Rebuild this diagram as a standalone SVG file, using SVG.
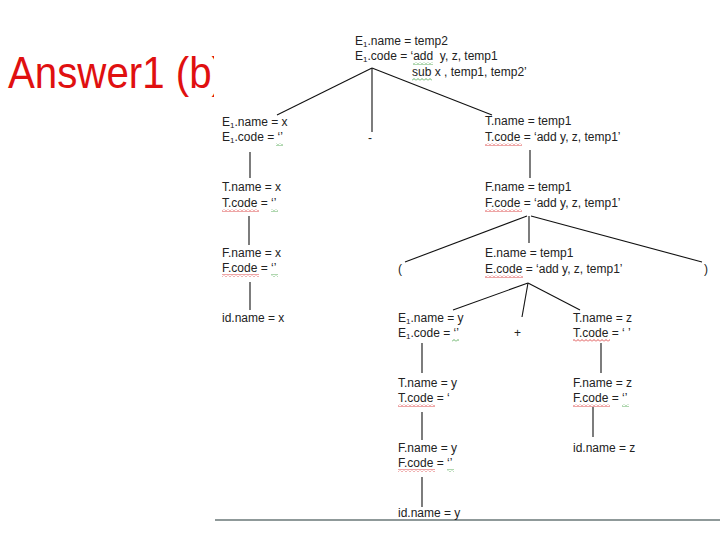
<svg xmlns="http://www.w3.org/2000/svg" width="720" height="540" viewBox="0 0 720 540">
<style>
text{font-family:"Liberation Sans",Arial,sans-serif;font-size:12px;fill:#222}
.pre{white-space:pre}
.sub{font-size:8px}
.title{font-size:45px;fill:#e01010}
.edge{stroke:#111;stroke-width:1.1;fill:none}
</style>
<defs>
<pattern id="wr" width="4" height="3" patternUnits="userSpaceOnUse"><path d="M0,2.5 L2,0.5 L4,2.5" stroke="#d42020" stroke-width="0.8" fill="none"/></pattern>
<pattern id="wg" width="4" height="3" patternUnits="userSpaceOnUse"><path d="M0,2.5 L2,0.5 L4,2.5" stroke="#3a9a3a" stroke-width="0.8" fill="none"/></pattern>
<clipPath id="tc"><rect x="0" y="0" width="214" height="540"/></clipPath>
</defs>
<rect width="720" height="540" fill="#fff"/>
<g id="title" clip-path="url(#tc)"><text class="title" x="8" y="88" textLength="217" lengthAdjust="spacingAndGlyphs">Answer1 (b)</text></g>
<line x1="215" y1="520" x2="720" y2="520" stroke="#6a7777" stroke-width="1.5"/>
<g id="connectors">
<line class="edge" x1="372" y1="68" x2="277" y2="115"/>
<line class="edge" x1="372" y1="68" x2="372" y2="132"/>
<line class="edge" x1="372" y1="68" x2="492" y2="115"/>
<line class="edge" x1="250" y1="152" x2="250" y2="178"/>
<line class="edge" x1="249" y1="216" x2="249" y2="245"/>
<line class="edge" x1="250" y1="282" x2="250" y2="310"/>
<line class="edge" x1="530" y1="150" x2="530" y2="178"/>
<line class="edge" x1="527" y1="216" x2="405" y2="262"/>
<line class="edge" x1="529" y1="216" x2="529" y2="243"/>
<line class="edge" x1="531" y1="216" x2="702" y2="262"/>
<line class="edge" x1="528" y1="283" x2="453" y2="310"/>
<line class="edge" x1="528" y1="283" x2="522" y2="317"/>
<line class="edge" x1="528" y1="283" x2="580" y2="310"/>
<line class="edge" x1="422" y1="343" x2="422" y2="373"/>
<line class="edge" x1="422" y1="412" x2="422" y2="440"/>
<line class="edge" x1="422" y1="477" x2="422" y2="507"/>
<line class="edge" x1="601" y1="343" x2="601" y2="373"/>
<line class="edge" x1="593" y1="407" x2="593" y2="437"/>
</g>
<g id="root">
<text x="355" y="45">E<tspan class="sub" dy="2">1</tspan><tspan dy="-2">.name = temp2</tspan></text>
<text class="pre" x="355" y="60" xml:space="preserve">E<tspan class="sub" dy="2">1</tspan><tspan dy="-2">.code = ‘add  y, z, temp1</tspan></text>
<text x="412" y="76">sub x , temp1, temp2’</text>
<rect x="413" y="62" width="20" height="3" fill="url(#wg)"/>
<rect x="412" y="78" width="20" height="3" fill="url(#wg)"/>
</g>
<g id="e1-left">
<text x="222" y="126">E<tspan class="sub" dy="2">1</tspan><tspan dy="-2">.name = x</tspan></text>
<text x="222" y="141">E<tspan class="sub" dy="2">1</tspan><tspan dy="-2">.code = ‘’</tspan></text>
<rect x="276" y="143" width="7" height="3" fill="url(#wg)"/>
</g>
<g id="minus"><text x="368" y="142">-</text></g>
<g id="t-right">
<text x="485" y="125">T.name = temp1</text>
<text x="485" y="141">T.code = ‘add y, z, temp1’</text>
<rect x="485" y="143" width="37" height="3" fill="url(#wr)"/>
</g>
<g id="t-left">
<text x="222" y="191">T.name = x</text>
<text x="222" y="207">T.code = ‘’</text>
<rect x="222" y="209" width="37" height="3" fill="url(#wr)"/>
<rect x="271" y="209" width="7" height="3" fill="url(#wg)"/>
</g>
<g id="f-right">
<text x="485" y="191">F.name = temp1</text>
<text x="485" y="207">F.code = ‘add y, z, temp1’</text>
<rect x="485" y="209" width="37" height="3" fill="url(#wr)"/>
</g>
<g id="f-left">
<text x="222" y="257">F.name = x</text>
<text x="222" y="272">F.code = ‘’</text>
<rect x="222" y="274" width="37" height="3" fill="url(#wr)"/>
<rect x="271" y="274" width="7" height="3" fill="url(#wg)"/>
</g>
<g id="lparen"><text x="398" y="273">(</text></g>
<g id="e-mid">
<text x="485" y="257">E.name = temp1</text>
<text x="485" y="273">E.code = ‘add y, z, temp1’</text>
<rect x="485" y="275" width="38" height="3" fill="url(#wr)"/>
</g>
<g id="rparen"><text x="704" y="273">)</text></g>
<g id="id-x"><text x="222" y="322">id.name = x</text></g>
<g id="e1-inner">
<text x="398" y="322">E<tspan class="sub" dy="2">1</tspan><tspan dy="-2">.name = y</tspan></text>
<text x="398" y="337">E<tspan class="sub" dy="2">1</tspan><tspan dy="-2">.code = ‘’</tspan></text>
<rect x="452" y="339" width="7" height="3" fill="url(#wg)"/>
</g>
<g id="plus"><text x="514" y="337">+</text></g>
<g id="t-z">
<text x="573" y="322">T.name = z</text>
<text x="573" y="337">T.code = ‘ ’</text>
<rect x="573" y="339" width="37" height="3" fill="url(#wr)"/>
</g>
<g id="t-y">
<text x="398" y="387">T.name = y</text>
<text x="398" y="402">T.code = ‘</text>
<rect x="398" y="404" width="37" height="3" fill="url(#wr)"/>
</g>
<g id="f-z">
<text x="573" y="387">F.name = z</text>
<text x="573" y="402">F.code = ‘’</text>
<rect x="573" y="404" width="37" height="3" fill="url(#wr)"/>
<rect x="622" y="404" width="7" height="3" fill="url(#wg)"/>
</g>
<g id="f-y">
<text x="398" y="452">F.name = y</text>
<text x="398" y="467">F.code = ‘’</text>
<rect x="398" y="469" width="37" height="3" fill="url(#wr)"/>
<rect x="447" y="469" width="7" height="3" fill="url(#wg)"/>
</g>
<g id="id-z"><text x="573" y="452">id.name = z</text></g>
<g id="id-y"><text x="398" y="517">id.name = y</text></g>
</svg>
